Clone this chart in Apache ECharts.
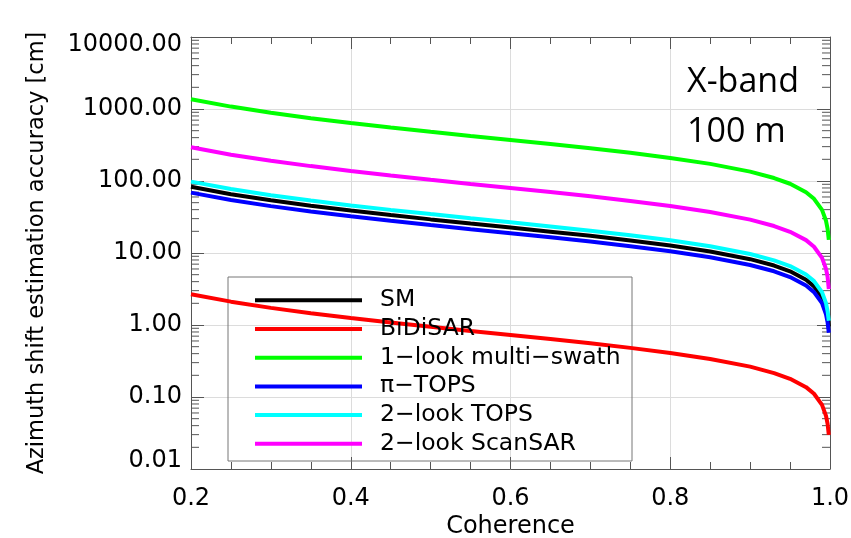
<!DOCTYPE html>
<html style="height: 100%">
<head>
    <script src="https://cdn.jsdelivr.net/npm/echarts@6.0.0/dist/echarts.min.js"></script>
</head>
<body style="height: 100%; margin: 0; background: #fff">
    <div id="main" style="width: 851px; height: 538px"></div>
    <script type="text/javascript">
    var coherence = [0.2, 0.25, 0.3, 0.35, 0.4, 0.45, 0.5, 0.55, 0.6, 0.65, 0.7, 0.75,
                     0.8, 0.85, 0.9, 0.93, 0.95, 0.97, 0.98, 0.99, 0.995, 0.997, 0.9985];

    // accuracy in cm
    var sm       = [83, 65.6, 53.9, 45.3, 38.8, 33.6, 29.3, 25.7, 22.6, 19.8, 17.3, 14.9,
                    12.7, 10.5, 8.21, 6.70, 5.57, 4.25, 3.44, 2.42, 1.70, 1.32, 0.95];
    var bidisar  = [2.67, 2.11, 1.73, 1.46, 1.25, 1.08, 0.944, 0.828, 0.727, 0.637, 0.556, 0.481,
                    0.409, 0.338, 0.264, 0.215, 0.179, 0.137, 0.111, 0.0777, 0.0547, 0.0423, 0.0298];
    var multiSwath = [1365, 1080, 886, 746, 638, 553, 483, 423, 372, 326, 284, 246,
                    209, 173, 135, 110, 91.6, 69.9, 56.6, 39.7, 28.0, 21.6, 15.2];
    var piTops   = [69, 54.6, 44.8, 37.7, 32.3, 28.0, 24.4, 21.4, 18.8, 16.5, 14.4, 12.4,
                    10.6, 8.73, 6.82, 5.57, 4.63, 3.53, 2.86, 2.01, 1.41, 1.09, 0.78];
    var tops2    = [98, 77.5, 63.6, 53.5, 45.8, 39.7, 34.7, 30.4, 26.7, 23.4, 20.4, 17.6,
                    15.0, 12.4, 9.69, 7.91, 6.58, 5.02, 4.07, 2.85, 2.01, 1.55, 1.15];
    var scansar2 = [294, 232, 191, 161, 137.5, 119, 104, 91.1, 80.0, 70.1, 61.2, 52.9,
                    45.0, 37.2, 29.1, 23.7, 19.7, 15.1, 12.2, 8.56, 6.03, 4.66, 3.15];

    var names  = ['SM', 'BiDiSAR', '1\u2212look multi\u2212swath', '\u03c0\u2212TOPS', '2\u2212look TOPS', '2\u2212look ScanSAR'];
    var values = [sm, bidisar, multiSwath, piTops, tops2, scansar2];
    var colors = ['#000000', '#ff0000', '#00ff00', '#0000ff', '#00ffff', '#ff00ff'];

    // log minor tick positions (2..9 per decade)
    var minorTicks = [];
    [0.01, 0.1, 1, 10, 100, 1000].forEach(function (d) {
        for (var k = 2; k <= 9; k++) minorTicks.push([0.2, k * d]);
    });

    var chartDom = document.getElementById('main');
    var myChart = echarts.init(chartDom);

    var font = 'DejaVu Sans';
    var frame = '#555';

    var series = values.map(function (v, i) {
        return {
            name: names[i],
            type: 'line',
            data: coherence.map(function (c, j) { return [c, v[j]]; }),
            showSymbol: false,
            symbol: 'none',
            lineStyle: { color: colors[i], width: 4 },
            itemStyle: { color: colors[i] },
            z: 3
        };
    });
    series.push({
        type: 'custom',
        silent: true,
        data: minorTicks,
        encode: { x: 0, y: 1 },
        renderItem: function (params, api) {
            var p = api.coord([0.2, api.value(1)]);
            var q = api.coord([1.0, api.value(1)]);
            return {
                type: 'group',
                children: [
                    { type: 'line', shape: { x1: p[0], y1: p[1], x2: p[0] + 8, y2: p[1] }, style: { stroke: frame, lineWidth: 1 } },
                    { type: 'line', shape: { x1: q[0] - 8, y1: q[1], x2: q[0], y2: q[1] }, style: { stroke: frame, lineWidth: 1 } }
                ]
            };
        },
        z: 2
    });

    // one legend block per entry so the rows sit at fixed spacing
    var legends = names.map(function (n, i) {
        return {
            data: [n],
            orient: 'vertical',
            left: 255,
            top: 277 + i * 28.7,
            padding: 0,
            icon: 'rect',
            itemWidth: 107,
            itemHeight: 4,
            textStyle: { fontFamily: font, fontSize: 23.5, color: '#000', padding: [0, 0, 0, 13] }
        };
    });

    var labelText = { fontFamily: font, fontSize: 24, color: '#000' };

    var option = {
        backgroundColor: '#fff',
        animation: false,
        grid: { left: 191, right: 21, top: 37, bottom: 69, outerBoundsMode: 'none' },
        legend: legends,
        xAxis: [{
            type: 'value',
            min: 0.2,
            max: 1.0,
            interval: 0.2,
            name: 'Coherence',
            nameLocation: 'middle',
            nameGap: 34,
            nameMoveOverlap: false,
            nameTextStyle: { fontFamily: font, fontSize: 24, color: '#000' },
            axisLine: { lineStyle: { color: frame } },
            axisTick: { inside: true, length: 12, lineStyle: { color: frame } },
            minorTick: { show: true, splitNumber: 4, length: 7, lineStyle: { color: frame } },
            axisLabel: { fontFamily: font, fontSize: 24, color: '#000', margin: 6,
                formatter: function (v) { return v.toFixed(1); } },
            splitLine: { show: true, lineStyle: { color: '#dcdcdc' } }
        }, {
            type: 'value',
            position: 'top',
            min: 0.2,
            max: 1.0,
            interval: 0.2,
            axisLine: { show: true, lineStyle: { color: frame } },
            axisTick: { inside: true, length: 12, lineStyle: { color: frame } },
            minorTick: { show: true, splitNumber: 4, length: 7, lineStyle: { color: frame } },
            axisLabel: { show: false },
            splitLine: { show: false }
        }],
        yAxis: [{
            type: 'log',
            logBase: 10,
            min: 0.01,
            max: 10000,
            splitNumber: 6,
            name: 'Azimuth shift estimation accuracy [cm]',
            nameLocation: 'middle',
            nameGap: 132,
            nameMoveOverlap: false,
            nameTextStyle: { fontFamily: font, fontSize: 22.5, color: '#000' },
            axisLine: { show: true, lineStyle: { color: frame } },
            axisTick: { inside: true, length: 13, lineStyle: { color: frame } },
            axisLabel: {
                color: '#000', margin: 9,
                formatter: function (v) {
                    var s = Number(v).toFixed(2);
                    if (v >= 10000) return '{hi|' + s + '}';
                    if (v <= 0.01) return '{lo|' + s + '}';
                    return '{n|' + s + '}';
                },
                rich: {
                    n: labelText,
                    hi: Object.assign({ padding: [16, 0, 0, 0] }, labelText),
                    lo: Object.assign({ padding: [0, 0, 16, 0] }, labelText)
                }
            },
            splitLine: { show: true, lineStyle: { color: '#dcdcdc' } }
        }, {
            type: 'log',
            logBase: 10,
            position: 'right',
            min: 0.01,
            max: 10000,
            splitNumber: 6,
            axisLine: { show: true, lineStyle: { color: frame } },
            axisTick: { inside: true, length: 13, lineStyle: { color: frame } },
            axisLabel: { show: false },
            splitLine: { show: false }
        }],
        graphic: [{
            type: 'rect',
            shape: { x: 228, y: 277, width: 404, height: 184 },
            style: { fill: null, stroke: '#777', lineWidth: 1 },
            z: 1
        }, {
            type: 'text',
            left: 687,
            top: 55,
            style: { text: 'X-band', font: '34px "Open Sans"', fill: '#000' }
        }, {
            type: 'text',
            left: 687,
            top: 105,
            style: { text: '100 m', font: '34px "Open Sans"', fill: '#000' }
        }],
        series: series
    };

    myChart.setOption(option);
    </script>
</body>
</html>
